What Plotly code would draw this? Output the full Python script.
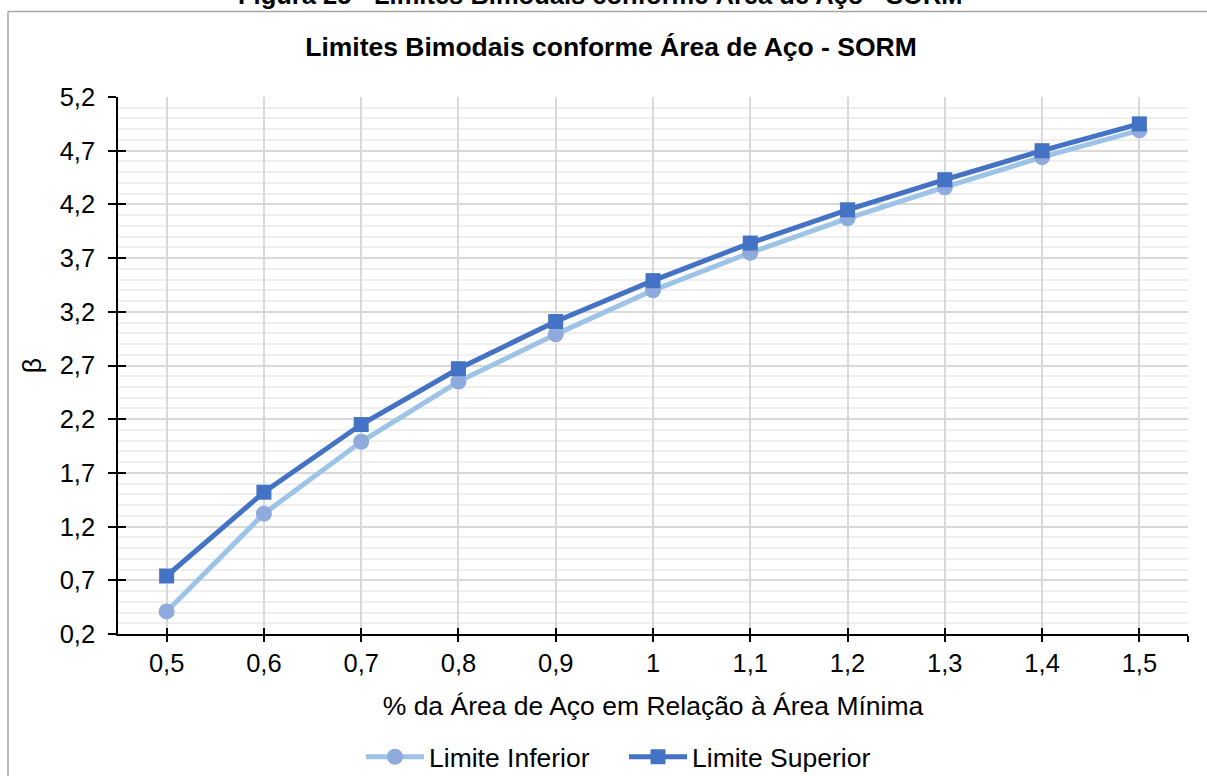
import plotly.graph_objects as go

# Steel area ratio (relative to the minimum area) and bimodal reliability bounds
area_ratio = [0.5, 0.6, 0.7, 0.8, 0.9, 1.0, 1.1, 1.2, 1.3, 1.4, 1.5]
limite_inferior = [0.41, 1.32, 1.99, 2.55, 2.99, 3.40, 3.75, 4.07, 4.36, 4.64, 4.89]
limite_superior = [0.74, 1.52, 2.15, 2.67, 3.11, 3.49, 3.84, 4.15, 4.43, 4.70, 4.95]

x_tick_vals = [0.5, 0.6, 0.7, 0.8, 0.9, 1.0, 1.1, 1.2, 1.3, 1.4, 1.5, 1.55]
x_tick_text = ["0,5", "0,6", "0,7", "0,8", "0,9", "1", "1,1", "1,2", "1,3", "1,4", "1,5", ""]

FONT = "Arial, Liberation Sans, sans-serif"
W, H = 1207, 776
ML, MR, MT, MB = 118, 19, 97, 142
PW, PH = W - ML - MR, H - MT - MB
TXT = 26.5
TICK = 25.5

fig = go.Figure()

fig.add_trace(go.Scatter(
    x=area_ratio, y=limite_inferior, name="Limite Inferior",
    mode="lines+markers",
    line=dict(color="#9DC3E6", width=5),
    marker=dict(symbol="circle", size=16, color="#8FAADC"),
))
fig.add_trace(go.Scatter(
    x=area_ratio, y=limite_superior, name="Limite Superior",
    mode="lines+markers",
    line=dict(color="#4472C4", width=5),
    marker=dict(symbol="square", size=15, color="#4472C4"),
))
# companion trace on the overlay axes that carry the inward half of the ticks
fig.add_trace(go.Scatter(
    x=area_ratio, y=limite_superior, xaxis="x2", yaxis="y2",
    mode="lines", line=dict(width=0), showlegend=False, hoverinfo="skip",
))

x_range = [0.45, 1.55]
y_range = [0.2, 5.2]

fig.update_layout(
    width=W, height=H, autosize=False,
    margin=dict(l=ML, r=MR, t=MT, b=MB, autoexpand=False),
    paper_bgcolor="white", plot_bgcolor="white",
    separators=",.",
    font=dict(family=FONT, size=TXT, color="#000000"),
    title=dict(
        text="<b>Limites Bimodais conforme Área de Aço - SORM</b>",
        x=611 / W, xanchor="center", xref="container",
        y=1 - 47 / H, yanchor="middle", yref="container",
        font=dict(size=TXT, color="#000000"),
    ),
    xaxis=dict(
        range=x_range, tickmode="array", tickvals=x_tick_vals, ticktext=x_tick_text,
        showgrid=True, gridcolor="#d9d9d9", gridwidth=1.5,
        showline=True, linecolor="#000000", linewidth=1.5,
        ticks="outside", ticklen=6, tickwidth=1.5, tickcolor="#000000",
        tickfont=dict(size=TICK), zeroline=False,
        title=dict(text="% da Área de Aço em Relação à Área Mínima",
                   font=dict(size=TXT), standoff=20),
    ),
    yaxis=dict(
        range=y_range, tick0=0.2, dtick=0.5, tickformat=".1f",
        showgrid=True, gridcolor="#d9d9d9", gridwidth=1.5,
        minor=dict(dtick=0.1, tick0=0.2, showgrid=True, gridcolor="#efefef", gridwidth=1.5),
        showline=True, linecolor="#000000", linewidth=1.5,
        ticks="outside", ticklen=8, tickwidth=1.5, tickcolor="#000000",
        tickfont=dict(size=TICK), zeroline=False, ticklabelstandoff=8,
        title=dict(text="β", font=dict(size=TXT), standoff=10),
    ),
    xaxis2=dict(
        overlaying="x", anchor="y2", range=x_range,
        tickmode="array", tickvals=x_tick_vals, showticklabels=False,
        ticks="inside", ticklen=6, tickwidth=1.5, tickcolor="#000000",
        showgrid=False, showline=False, zeroline=False,
    ),
    yaxis2=dict(
        overlaying="y", anchor="x2", side="left", range=y_range,
        tick0=0.2, dtick=0.5, showticklabels=False,
        ticks="inside", ticklen=8, tickwidth=1.5, tickcolor="#000000",
        showgrid=False, showline=False, zeroline=False,
    ),
    legend=dict(
        orientation="h", x=(361 - ML) / PW, xanchor="left",
        y=-(757 - (MT + PH)) / PH, yanchor="middle",
        font=dict(size=TXT), itemwidth=58, entrywidth=190,
        bgcolor="rgba(0,0,0,0)",
    ),
    showlegend=True,
)

# figure caption sitting above the chart frame
fig.add_annotation(
    text="<b>Figura 25 - Limites Bimodais conforme Área de Aço - SORM</b>",
    xref="paper", yref="paper",
    x=(600 - ML) / PW, xanchor="center",
    y=1 + (MT + 5) / PH, yanchor="middle",
    showarrow=False, font=dict(size=25.5, color="#000000"),
)

# chart frame: left and top edges (the rest runs past the page)
frame_left = (8 - ML) / PW
frame_top = 1 + (MT - 11.5) / PH
frame_style = dict(color="#a6a6a6", width=1.5)
fig.add_shape(type="line", xref="paper", yref="paper", layer="below",
              x0=frame_left, x1=frame_left, y0=-(H - MT - PH) / PH, y1=frame_top,
              line=frame_style)
fig.add_shape(type="line", xref="paper", yref="paper", layer="below",
              x0=frame_left, x1=(W - ML) / PW, y0=frame_top, y1=frame_top,
              line=frame_style)

fig.write_html("out.html")
